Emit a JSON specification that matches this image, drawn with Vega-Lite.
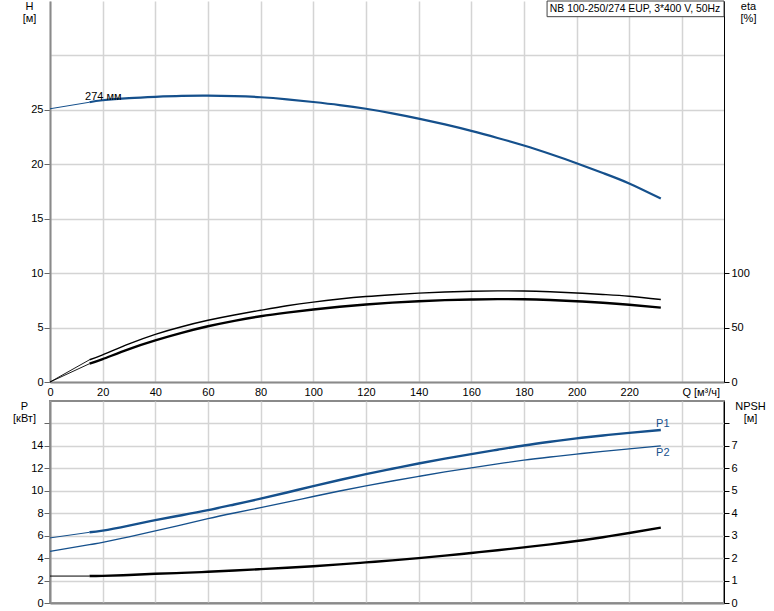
{
  "$schema": "https://vega.github.io/schema/vega-lite/v6.json",
  "autosize": {"type": "pad"},
  "padding": {"left": 11, "top": 0, "right": 5, "bottom": 0},
  "background": "white",
  "config": {
    "font": "Liberation Sans",
    "axis": {"labelFontSize": 11, "labelColor": "#000", "titleFontSize": 11, "titleFontWeight": "normal", "titleColor": "#000", "gridColor": "#d4d4d4", "gridWidth": 1.5, "labelFlush": false, "labelOverlap": false}
  },
  "datasets": {
    "head": [
      {"Q": 0, "H": 25.1}, {"Q": 15, "H": 25.7}, {"Q": 20, "H": 25.88}, {"Q": 30, "H": 26.08}, {"Q": 40, "H": 26.2},
      {"Q": 50, "H": 26.28}, {"Q": 60, "H": 26.3}, {"Q": 70, "H": 26.26}, {"Q": 80, "H": 26.16}, {"Q": 90, "H": 25.97},
      {"Q": 100, "H": 25.72}, {"Q": 110, "H": 25.44}, {"Q": 120, "H": 25.1}, {"Q": 130, "H": 24.68}, {"Q": 140, "H": 24.2},
      {"Q": 150, "H": 23.66}, {"Q": 160, "H": 23.07}, {"Q": 170, "H": 22.42}, {"Q": 180, "H": 21.72}, {"Q": 190, "H": 20.94},
      {"Q": 200, "H": 20.1}, {"Q": 210, "H": 19.2}, {"Q": 220, "H": 18.24}, {"Q": 232, "H": 16.85}
    ],
    "eta": [
      {"Q": 0, "curve": "etaP", "eta": 0}, {"Q": 15, "curve": "etaP", "eta": 20.4}, {"Q": 20, "curve": "etaP", "eta": 25}, {"Q": 30, "curve": "etaP", "eta": 35},
      {"Q": 40, "curve": "etaP", "eta": 43.8}, {"Q": 50, "curve": "etaP", "eta": 50.8}, {"Q": 60, "curve": "etaP", "eta": 56.7}, {"Q": 70, "curve": "etaP", "eta": 61.6},
      {"Q": 80, "curve": "etaP", "eta": 65.9}, {"Q": 90, "curve": "etaP", "eta": 70}, {"Q": 100, "curve": "etaP", "eta": 73.4}, {"Q": 110, "curve": "etaP", "eta": 76.2},
      {"Q": 120, "curve": "etaP", "eta": 78.5}, {"Q": 130, "curve": "etaP", "eta": 80.2}, {"Q": 140, "curve": "etaP", "eta": 81.6}, {"Q": 150, "curve": "etaP", "eta": 82.7},
      {"Q": 160, "curve": "etaP", "eta": 83.4}, {"Q": 170, "curve": "etaP", "eta": 83.7}, {"Q": 180, "curve": "etaP", "eta": 83.6}, {"Q": 190, "curve": "etaP", "eta": 82.9},
      {"Q": 200, "curve": "etaP", "eta": 81.8}, {"Q": 210, "curve": "etaP", "eta": 80.4}, {"Q": 220, "curve": "etaP", "eta": 78.8}, {"Q": 232, "curve": "etaP", "eta": 75.8},
      {"Q": 0, "curve": "etaT", "eta": 0}, {"Q": 15, "curve": "etaT", "eta": 16.8}, {"Q": 20, "curve": "etaT", "eta": 21}, {"Q": 30, "curve": "etaT", "eta": 30.3},
      {"Q": 40, "curve": "etaT", "eta": 38.3}, {"Q": 50, "curve": "etaT", "eta": 45.2}, {"Q": 60, "curve": "etaT", "eta": 51.2}, {"Q": 70, "curve": "etaT", "eta": 56.2},
      {"Q": 80, "curve": "etaT", "eta": 60.4}, {"Q": 90, "curve": "etaT", "eta": 63.7}, {"Q": 100, "curve": "etaT", "eta": 66.6}, {"Q": 110, "curve": "etaT", "eta": 69.1},
      {"Q": 120, "curve": "etaT", "eta": 71.2}, {"Q": 130, "curve": "etaT", "eta": 72.9}, {"Q": 140, "curve": "etaT", "eta": 74.2}, {"Q": 150, "curve": "etaT", "eta": 75.2},
      {"Q": 160, "curve": "etaT", "eta": 75.8}, {"Q": 170, "curve": "etaT", "eta": 76.1}, {"Q": 180, "curve": "etaT", "eta": 76}, {"Q": 190, "curve": "etaT", "eta": 75.3},
      {"Q": 200, "curve": "etaT", "eta": 74.2}, {"Q": 210, "curve": "etaT", "eta": 72.8}, {"Q": 220, "curve": "etaT", "eta": 71}, {"Q": 232, "curve": "etaT", "eta": 68.3}
    ],
    "power": [
      {"Q": 0, "curve": "P1", "P": 5.8}, {"Q": 15, "curve": "P1", "P": 6.3}, {"Q": 20, "curve": "P1", "P": 6.45}, {"Q": 30, "curve": "P1", "P": 6.9},
      {"Q": 40, "curve": "P1", "P": 7.38}, {"Q": 50, "curve": "P1", "P": 7.82}, {"Q": 60, "curve": "P1", "P": 8.27}, {"Q": 70, "curve": "P1", "P": 8.78},
      {"Q": 80, "curve": "P1", "P": 9.3}, {"Q": 90, "curve": "P1", "P": 9.85}, {"Q": 100, "curve": "P1", "P": 10.42}, {"Q": 110, "curve": "P1", "P": 10.96},
      {"Q": 120, "curve": "P1", "P": 11.48}, {"Q": 130, "curve": "P1", "P": 11.96}, {"Q": 140, "curve": "P1", "P": 12.43}, {"Q": 150, "curve": "P1", "P": 12.86},
      {"Q": 160, "curve": "P1", "P": 13.27}, {"Q": 170, "curve": "P1", "P": 13.66}, {"Q": 180, "curve": "P1", "P": 14.04}, {"Q": 190, "curve": "P1", "P": 14.37},
      {"Q": 200, "curve": "P1", "P": 14.67}, {"Q": 210, "curve": "P1", "P": 14.93}, {"Q": 220, "curve": "P1", "P": 15.16}, {"Q": 232, "curve": "P1", "P": 15.42},
      {"Q": 0, "curve": "P2", "P": 4.6}, {"Q": 15, "curve": "P2", "P": 5.2}, {"Q": 20, "curve": "P2", "P": 5.4}, {"Q": 30, "curve": "P2", "P": 5.9},
      {"Q": 40, "curve": "P2", "P": 6.42}, {"Q": 50, "curve": "P2", "P": 6.97}, {"Q": 60, "curve": "P2", "P": 7.52}, {"Q": 70, "curve": "P2", "P": 8.02},
      {"Q": 80, "curve": "P2", "P": 8.5}, {"Q": 90, "curve": "P2", "P": 8.99}, {"Q": 100, "curve": "P2", "P": 9.49}, {"Q": 110, "curve": "P2", "P": 9.98},
      {"Q": 120, "curve": "P2", "P": 10.44}, {"Q": 130, "curve": "P2", "P": 10.87}, {"Q": 140, "curve": "P2", "P": 11.28}, {"Q": 150, "curve": "P2", "P": 11.68},
      {"Q": 160, "curve": "P2", "P": 12.05}, {"Q": 170, "curve": "P2", "P": 12.4}, {"Q": 180, "curve": "P2", "P": 12.73}, {"Q": 190, "curve": "P2", "P": 13.01},
      {"Q": 200, "curve": "P2", "P": 13.27}, {"Q": 210, "curve": "P2", "P": 13.51}, {"Q": 220, "curve": "P2", "P": 13.74}, {"Q": 232, "curve": "P2", "P": 14.0}
    ],
    "npsh": [
      {"Q": 0, "NPSH": 1.2}, {"Q": 15, "NPSH": 1.2}, {"Q": 20, "NPSH": 1.21}, {"Q": 30, "NPSH": 1.25}, {"Q": 40, "NPSH": 1.3},
      {"Q": 50, "NPSH": 1.34}, {"Q": 60, "NPSH": 1.39}, {"Q": 70, "NPSH": 1.45}, {"Q": 80, "NPSH": 1.51}, {"Q": 90, "NPSH": 1.57},
      {"Q": 100, "NPSH": 1.64}, {"Q": 110, "NPSH": 1.72}, {"Q": 120, "NPSH": 1.81}, {"Q": 130, "NPSH": 1.9}, {"Q": 140, "NPSH": 2.0},
      {"Q": 150, "NPSH": 2.11}, {"Q": 160, "NPSH": 2.23}, {"Q": 170, "NPSH": 2.35}, {"Q": 180, "NPSH": 2.48}, {"Q": 190, "NPSH": 2.61},
      {"Q": 200, "NPSH": 2.76}, {"Q": 210, "NPSH": 2.93}, {"Q": 220, "NPSH": 3.12}, {"Q": 232, "NPSH": 3.36}
    ],
    "headLabel": [{"Q": 13.3, "H": 25.86, "label": "274 мм"}],
    "powerLabels": [{"Q": 230.2, "P": 15.97, "label": "P1"}, {"Q": 230.2, "P": 13.38, "label": "P2"}]
  },
  "vconcat": [
    {
      "width": 674,
      "height": 381,
      "view": {"stroke": null},
      "layer": [
        {
          "encoding": {
            "x": {"field": "Q", "type": "quantitative", "scale": {"domain": [0, 256], "nice": false, "zero": false},
              "axis": {"values": [0, 20, 40, 60, 80, 100, 120, 140, 160, 180, 200, 220, 240], "title": null,
                "labelExpr": "datum.value == 240 ? 'Q [м³/ч]' : datum.label",
                "labelAlign": {"condition": {"test": "datum.value == 240", "value": "left"}, "value": "center"},
                "ticks": false, "labelPadding": 4, "domainColor": "#8a8a8a", "domainWidth": 2, "grid": true}},
            "y": {"field": "H", "type": "quantitative", "scale": {"domain": [0, 35], "nice": false},
              "axis": {"values": [0, 5, 10, 15, 20, 25, 30], "labelExpr": "datum.value > 25 ? '' : datum.label",
                "tickOpacity": {"condition": {"test": "datum.value > 25", "value": 0}, "value": 1},
                "grid": true, "domainColor": "#8a8a8a", "domainWidth": 2, "tickColor": "#666", "tickSize": 6, "labelPadding": 1,
                "title": ["H", "[м]"], "titleAngle": 0, "titleAlign": "center", "titleBaseline": "top", "titleX": -21, "titleY": -1, "titleLineHeight": 12.5}}
          },
          "layer": [
            {"data": {"name": "head"}, "transform": [{"filter": "datum.Q <= 15"}], "mark": {"type": "line", "color": "#15508c", "strokeWidth": 1}},
            {"data": {"name": "head"}, "transform": [{"filter": "datum.Q >= 15"}], "mark": {"type": "line", "color": "#15508c", "strokeWidth": 2.2, "interpolate": "natural"}},
            {"data": {"name": "headLabel"}, "mark": {"type": "text", "align": "left", "baseline": "alphabetic", "fontSize": 11, "color": "#000"}, "encoding": {"text": {"field": "label"}}}
          ]
        },
        {
          "data": {"name": "eta"},
          "encoding": {
            "x": {"field": "Q", "type": "quantitative"},
            "y": {"field": "eta", "type": "quantitative", "scale": {"domain": [0, 350], "nice": false},
              "axis": {"orient": "right", "values": [0, 50, 100], "grid": false, "domainColor": "#000", "domainWidth": 1, "tickColor": "#000", "tickSize": 5, "labelPadding": 2,
                "title": ["eta", "[%]"], "titleAngle": 0, "titleAlign": "center", "titleBaseline": "top", "titleX": 24, "titleY": -1, "titleLineHeight": 12.5}},
            "detail": {"field": "curve"}
          },
          "layer": [
            {"transform": [{"filter": "datum.Q <= 15"}], "mark": {"type": "line", "color": "#000", "strokeWidth": 0.9}},
            {"transform": [{"filter": "datum.Q >= 15 && datum.curve == 'etaP'"}], "mark": {"type": "line", "color": "#000", "strokeWidth": 1.4, "interpolate": "natural"}},
            {"transform": [{"filter": "datum.Q >= 15 && datum.curve == 'etaT'"}], "mark": {"type": "line", "color": "#000", "strokeWidth": 2.4, "interpolate": "natural"}}
          ]
        },
        {
          "data": {"values": [{"title": "NB 100-250/274 EUP, 3*400 V, 50Hz"}]},
          "layer": [
            {"mark": {"type": "rect", "fill": "white", "stroke": "#444", "strokeWidth": 1},
              "encoding": {"x": {"datum": 188.8, "type": "quantitative"}, "x2": {"datum": 256}, "y": {"datum": 33.56, "type": "quantitative", "scale": {"domain": [0, 35], "nice": false}, "axis": null}, "y2": {"datum": 35}}},
            {"mark": {"type": "text", "align": "center", "baseline": "middle", "fontSize": 10.4, "color": "#000"},
              "encoding": {"x": {"datum": 222.2, "type": "quantitative"}, "y": {"datum": 34.28, "type": "quantitative", "scale": {"domain": [0, 35], "nice": false}, "axis": null}, "text": {"field": "title"}}}
          ]
        }
      ],
      "resolve": {"scale": {"y": "independent"}, "axis": {"y": "independent"}}
    },
    {
      "width": 674,
      "height": 202,
      "view": {"stroke": "#8a8a8a", "strokeWidth": 2},
      "encoding": {
        "x": {"field": "Q", "type": "quantitative", "scale": {"domain": [0, 256], "nice": false, "zero": false},
          "axis": {"values": [0, 20, 40, 60, 80, 100, 120, 140, 160, 180, 200, 220, 240], "title": null, "labels": false, "ticks": false,
            "domainColor": "#8a8a8a", "domainWidth": 2, "grid": true}}
      },
      "layer": [
        {
          "encoding": {
            "y": {"field": "P", "type": "quantitative", "scale": {"domain": [0, 18], "nice": false},
              "axis": {"values": [0, 2, 4, 6, 8, 10, 12, 14, 16], "labelExpr": "datum.value > 14 ? '' : datum.label",
                "grid": true, "domainColor": "#8a8a8a", "domainWidth": 2, "tickColor": "#666", "tickSize": 6, "labelPadding": 1,
                "title": ["P", "[кВт]"], "titleAngle": 0, "titleAlign": "center", "titleBaseline": "top", "titleX": -26, "titleY": -1, "titleLineHeight": 12.5}}
          },
          "layer": [
            {"data": {"name": "power"}, "transform": [{"filter": "datum.curve == 'P1' && datum.Q <= 15"}], "mark": {"type": "line", "color": "#15508c", "strokeWidth": 1}},
            {"data": {"name": "power"}, "transform": [{"filter": "datum.curve == 'P1' && datum.Q >= 15"}], "mark": {"type": "line", "color": "#15508c", "strokeWidth": 2.4, "interpolate": "natural"}},
            {"data": {"name": "power"}, "transform": [{"filter": "datum.curve == 'P2'"}], "mark": {"type": "line", "color": "#15508c", "strokeWidth": 1.3, "interpolate": "natural"}},
            {"data": {"name": "powerLabels"}, "mark": {"type": "text", "align": "left", "baseline": "middle", "fontSize": 11, "color": "#15508c"}, "encoding": {"text": {"field": "label"}}}
          ]
        },
        {
          "data": {"name": "npsh"},
          "encoding": {
            "y": {"field": "NPSH", "type": "quantitative", "scale": {"domain": [0, 9], "nice": false},
              "axis": {"orient": "right", "values": [0, 1, 2, 3, 4, 5, 6, 7, 8], "labelExpr": "datum.value > 7 ? '' : datum.label",
                "grid": false, "domainColor": "#000", "domainWidth": 1, "tickColor": "#000", "tickSize": 5, "labelPadding": 2,
                "title": ["NPSH", "[м]"], "titleAngle": 0, "titleAlign": "center", "titleBaseline": "top", "titleX": 26, "titleY": -1, "titleLineHeight": 12.5}}
          },
          "layer": [
            {"transform": [{"filter": "datum.Q <= 15"}], "mark": {"type": "line", "color": "#000", "strokeWidth": 1}},
            {"transform": [{"filter": "datum.Q >= 15"}], "mark": {"type": "line", "color": "#000", "strokeWidth": 2.4, "interpolate": "natural"}}
          ]
        }
      ],
      "resolve": {"scale": {"y": "independent"}, "axis": {"y": "independent"}}
    }
  ],
  "spacing": 19,
  "bounds": "flush"
}
